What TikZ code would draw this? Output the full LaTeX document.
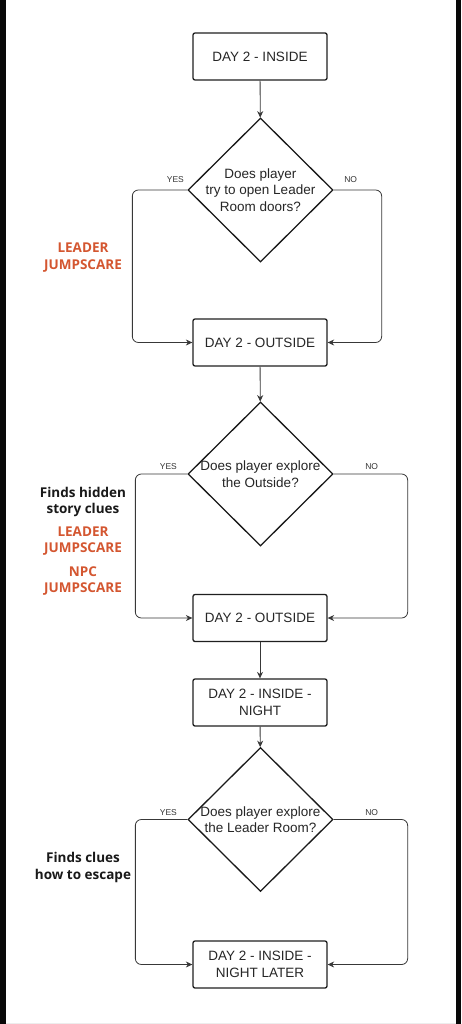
\documentclass[tikz,border=0pt]{standalone}
\usepackage{fontspec}
\setmainfont{Liberation Sans}
\newfontfamily\notefont{Open Sans}
\usetikzlibrary{arrows.meta,shapes.geometric,positioning}

\begin{document}
\begin{tikzpicture}[
  x=1pt,y=-1pt,
  >=Stealth,
  flow/.style={-{Stealth[length=6.5pt,width=6pt]},line width=.8pt,draw=black!78},
  state/.style={draw=black!88,line width=1.3pt,rounded corners=2pt,
    minimum width=134pt,minimum height=47pt,align=center,text=black!85,
    font=\fontsize{13.5}{16.5}\selectfont},
  ask/.style={diamond,draw=black!90,line width=1.3pt,inner sep=0pt,
    minimum width=145pt,minimum height=144pt},
  asktext/.style={align=center,text=black!85,inner sep=0pt,
    font=\fontsize{13.5}{16.5}\selectfont},
  tag/.style={font=\fontsize{8.5}{10}\selectfont,text=black!80,inner sep=0pt},
  note/.style={align=center,text=black!90,inner sep=0pt,
    font=\notefont\bfseries\fontsize{13.5}{16.3}\selectfont},
  scare/.style={note,text=scare}
]

\definecolor{scare}{RGB}{212,86,48}
\definecolor{edge}{RGB}{8,8,8}

% frame
\useasboundingbox (0,0) rectangle (461,1024);
\fill[white] (0,0) rectangle (461,1024);
\fill[black!7] (5.5,1022.5) rectangle (455.5,1024);
\draw[edge,line width=5.5pt] (2.75,0) -- (2.75,1024);
\draw[edge,line width=5.5pt] (458.25,0) -- (458.25,1024);

% day 2 inside
\node[state] (in) at (260,56.5) {DAY 2 - INSIDE};
\node[ask] (q1) at (260.5,190) {};
\node[asktext] at (q1) {Does player\\try to open Leader\\Room doors?};
\node[state] (out) at (260,342.5) {DAY 2 - OUTSIDE};

\node[tag] (yes1) at ([xshift=-12pt,yshift=10pt]q1.west) {YES};
\node[tag] (no1) at ([xshift=17pt,yshift=10pt]q1.east) {NO};
\node[scare] (sc1) at (83,257.5) {LEADER\\JUMPSCARE};

\draw[flow] (in) -- (q1);
\draw[flow,rounded corners=6pt] (q1.west) -- ++(-55,0) |- (out.west);
\draw[flow,rounded corners=6pt] (q1.east) -- ++(48,0) |- (out.east);

% day 2 outside
\node[ask] (q2) at (260.5,474) {};
\node[asktext] at (q2) {Does player explore\\the Outside?};
\node[state] (out2) at (260,618) {DAY 2 - OUTSIDE};

\node[tag] (yes2) at ([xshift=-19pt,yshift=7pt]q2.west) {YES};
\node[tag] (no2) at ([xshift=38pt,yshift=7pt]q2.east) {NO};
\node[note] (clue1) at (83,502) {Finds hidden\\story clues};
\node[scare] (sc2) at (83,541) {LEADER\\JUMPSCARE};
\node[scare] (sc3) at (83,581) {NPC\\JUMPSCARE};

\draw[flow] (out) -- (q2);
\draw[flow,rounded corners=6pt] (q2.west) -- ++(-52,0) |- (out2.west);
\draw[flow,rounded corners=6pt] (q2.east) -- ++(74,0) |- (out2.east);

% day 2 inside at night
\node[state] (night) at (260,702.5) {DAY 2 - INSIDE -\\NIGHT};
\node[ask] (q3) at (260.5,819.5) {};
\node[asktext] at (q3) {Does player explore\\the Leader Room?};
\node[state] (later) at (260,964.5) {DAY 2 - INSIDE -\\NIGHT LATER};

\node[tag] (yes3) at ([xshift=-19pt,yshift=7pt]q3.west) {YES};
\node[tag] (no3) at ([xshift=38pt,yshift=7pt]q3.east) {NO};
\node[note] (clue2) at (83,867.5) {Finds clues\\how to escape};

\draw[flow] (out2) -- (night);
\draw[flow] (night) -- (q3);
\draw[flow,rounded corners=6pt] (q3.west) -- ++(-52,0) |- (later.west);
\draw[flow,rounded corners=6pt] (q3.east) -- ++(74,0) |- (later.east);

\end{tikzpicture}
\end{document}
